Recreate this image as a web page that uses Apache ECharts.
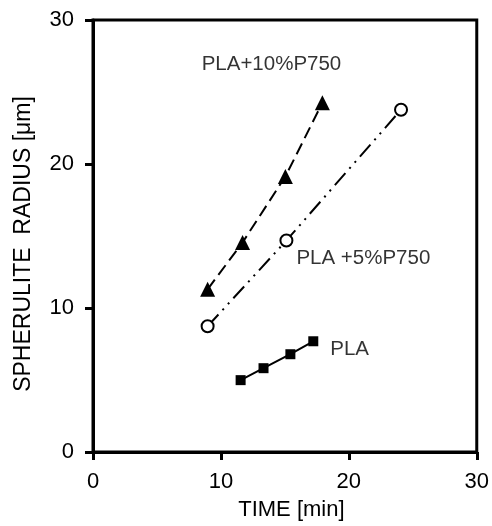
<!DOCTYPE html>
<html>
<head>
<meta charset="utf-8">
<script src="https://cdn.jsdelivr.net/npm/echarts@6/dist/echarts.min.js"></script>
<style>html,body{margin:0;padding:0;background:#fff}#c{width:492px;height:526px}</style>
</head>
<body>
<div id="c"></div>
<script>
// Data
const pla10Time = [8.96, 11.69, 15.04, 17.93];
const pla10Radius = [11.3, 14.55, 19.13, 24.25];
const pla5Time = [8.96, 15.12, 24.08];
const pla5Radius = [8.73, 14.69, 23.77];
const plaTime = [11.54, 13.33, 15.43, 17.22];
const plaRadius = [4.99, 5.82, 6.79, 7.69];
const xTicks = [0, 10, 20, 30];
const yTicks = [0, 10, 20, 30];
const seriesNames = ['PLA+10%P750', 'PLA +5%P750', 'PLA'];

const zip = (a, b) => a.map((v, i) => [v, b[i]]);
const FONT = 'Arial, "Liberation Sans", Helvetica, sans-serif';

const chart = echarts.init(document.getElementById('c'), null, {renderer: 'canvas'});
const axisCommon = {
  min: xTicks[0], max: xTicks[xTicks.length - 1], interval: xTicks[1] - xTicks[0],
  axisLine: {show: true, onZero: false, lineStyle: {color: '#000', width: 3}},
  axisTick: {show: true, inside: false, length: 8, lineStyle: {color: '#000', width: 3}},
  splitLine: {show: false},
  axisLabel: {color: '#000', fontSize: 22, fontFamily: FONT, margin: 19},
  nameLocation: 'middle'
};
chart.setOption({
  animation: false,
  backgroundColor: '#fff',
  grid: {left: 93, right: 14, top: 20, bottom: 73, show: true, borderColor: '#000', borderWidth: 3, backgroundColor: 'transparent'},
  xAxis: Object.assign({}, axisCommon, {
    type: 'value', name: 'TIME [min]', nameGap: 47,
    nameTextStyle: {color: '#000', fontSize: 22, fontFamily: FONT, padding: [0, 0, 0, 13]}
  }),
  yAxis: Object.assign({}, axisCommon, {
    type: 'value', name: 'SPHERULITE  RADIUS [\u03bcm]', nameGap: 58,
    min: yTicks[0], max: yTicks[yTicks.length - 1], interval: yTicks[1] - yTicks[0],
    nameTextStyle: {color: '#000', fontSize: 23, fontFamily: FONT, padding: [0, 16, 0, 0]}
  }),
  series: [
    {
      name: seriesNames[0], type: 'line', data: zip(pla10Time, pla10Radius),
      symbol: 'triangle', symbolSize: 15,
      itemStyle: {color: '#000'},
      lineStyle: {color: '#000', width: 2, type: [12, 6]}
    },
    {
      name: seriesNames[1], type: 'line', data: zip(pla5Time, pla5Radius),
      symbol: 'circle', symbolSize: 12,
      itemStyle: {color: '#fff', borderColor: '#000', borderWidth: 2},
      lineStyle: {color: '#000', width: 2, type: [16, 6, 2, 6, 2, 6]}
    },
    {
      name: seriesNames[2], type: 'line', data: zip(plaTime, plaRadius),
      symbol: 'rect', symbolSize: 10,
      itemStyle: {color: '#000'},
      lineStyle: {color: '#000', width: 2}
    },
    {
      type: 'scatter', symbolSize: 0, silent: true,
      data: [
        {value: [13.95, 26.9], label: {formatter: seriesNames[0], align: 'center'}},
        {value: [15.9, 13.44], label: {formatter: seriesNames[1], align: 'left'}},
        {value: [18.55, 7.14], label: {formatter: seriesNames[2], align: 'left'}}
      ],
      label: {show: true, position: 'inside', color: '#000', fontSize: 20.5, fontFamily: FONT, verticalAlign: 'middle'}
    }
  ]
});
</script>
</body>
</html>
